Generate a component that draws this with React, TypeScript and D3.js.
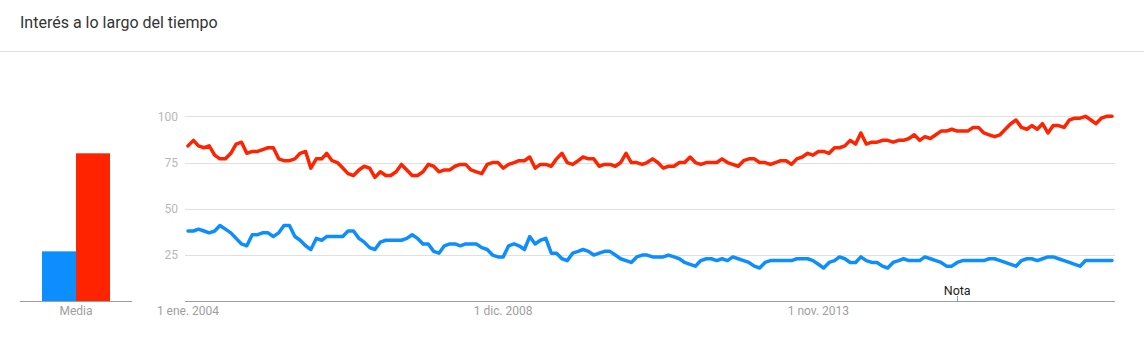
import React from "react";
import * as d3 from "d3";

// Monthly interest, Jan 2004 – Jun 2018 (0–100 scale)
const seriesNames = ["Serie A", "Serie B"];
const seriesColors = ["#0c8eff", "#ff2300"];

const blueValues = [
  38, 38, 39, 38, 37, 38, 41, 39, 37, 34,
  31, 30, 36, 36, 37, 37, 35, 37, 41, 41,
  35, 33, 30, 28, 34, 33, 35, 35, 35, 35,
  38, 38, 34, 32, 29, 28, 32, 33, 33, 33,
  33, 34, 36, 34, 31, 31, 27, 26, 30, 31,
  31, 30, 31, 31, 31, 29, 28, 25, 24, 24,
  30, 31, 30, 28, 35, 31, 33, 34, 26, 26,
  23, 22, 26, 27, 28, 27, 25, 26, 27, 27,
  25, 23, 22, 21, 24, 25, 25, 24, 24, 24,
  25, 24, 23, 21, 20, 19, 22, 23, 23, 22,
  23, 22, 24, 23, 22, 21, 19, 18, 21, 22,
  22, 22, 22, 22, 23, 23, 23, 22, 20, 18,
  21, 22, 24, 23, 21, 21, 24, 22, 21, 21,
  19, 18, 21, 22, 23, 22, 22, 22, 24, 23,
  22, 21, 19, 19, 21, 22, 22, 22, 22, 22,
  23, 23, 22, 21, 20, 19, 22, 23, 23, 22,
  23, 24, 24, 23, 22, 21, 20, 19, 22, 22,
  22, 22, 22, 22,
];

const redValues = [
  84, 87, 84, 83, 84, 79, 77, 77, 80, 85,
  86, 80, 81, 81, 82, 83, 83, 77, 76, 76,
  77, 80, 81, 72, 77, 77, 80, 76, 75, 72,
  69, 68, 71, 73, 72, 67, 70, 68, 68, 70,
  74, 71, 68, 68, 70, 74, 73, 70, 71, 71,
  73, 74, 74, 71, 70, 69, 74, 75, 75, 72,
  74, 75, 76, 76, 78, 72, 74, 74, 73, 77,
  80, 75, 74, 76, 78, 77, 77, 73, 74, 74,
  73, 75, 80, 75, 75, 74, 75, 77, 75, 72,
  73, 73, 75, 75, 78, 75, 74, 75, 75, 75,
  77, 75, 74, 73, 76, 77, 77, 75, 75, 74,
  75, 76, 76, 74, 77, 78, 80, 79, 81, 81,
  80, 83, 83, 84, 87, 85, 91, 85, 86, 86,
  87, 87, 86, 87, 87, 88, 90, 87, 89, 88,
  90, 92, 92, 93, 92, 92, 92, 94, 94, 91,
  90, 89, 90, 93, 96, 98, 94, 93, 95, 93,
  96, 91, 95, 95, 94, 98, 99, 99, 100, 98,
  96, 99, 100, 100,
];

// Period averages shown in the side bar chart
const averages = [27, 80];

const yTicks = [25, 50, 75, 100];
const xTickDates = [new Date(2004, 0, 1), new Date(2008, 11, 1), new Date(2013, 10, 1)];
const xTickLabels = ["1 ene. 2004", "1 dic. 2008", "1 nov. 2013"];
const noteDate = new Date(2016, 0, 1);
const noteLabel = "Nota";
const title = "Interés a lo largo del tiempo";
const avgLabel = "Media";

const months = d3.timeMonth.range(new Date(2004, 0, 1), new Date(2018, 6, 1));

const W = 1144;
const H = 346;
const FONT = "Roboto, 'Noto Sans', Arial, sans-serif";

export default function App() {
  const y = d3.scaleLinear().domain([0, 100]).range([301.3, 116.3]);
  const x = d3
    .scaleTime()
    .domain([months[0], months[months.length - 1]])
    .range([188, 1112]);
  const plotLeft = 185;
  const plotRight = 1115;

  const line = d3
    .line<number>()
    .x((_, i) => x(months[i]))
    .y((v) => y(v));

  const band = d3.scaleBand<number>().domain([0, 1]).range([42, 110]).padding(0);

  const gridY = (v: number) => Math.round(y(v)) + 0.5;
  const baseY = gridY(0);

  return (
    <svg
      width={W}
      height={H}
      style={{ position: "absolute", left: 0, top: 0, background: "#fff" }}
      fontFamily={FONT}
    >
      <text x={20} y={28} fontSize={16} fill="#333">
        {title}
      </text>
      <line x1={0} x2={W} y1={51.5} y2={51.5} stroke="#e0e0e0" />

      {/* average bars */}
      {averages.map((v, i) => (
        <rect
          key={seriesNames[i]}
          x={band(i)}
          width={band.bandwidth()}
          y={y(v)}
          height={y(0) - y(v)}
          fill={seriesColors[i]}
        />
      ))}
      <line x1={20} x2={132} y1={baseY} y2={baseY} stroke="#9e9e9e" />
      <text x={76} y={315} fontSize={12} fill="#9e9e9e" textAnchor="middle">
        {avgLabel}
      </text>

      {/* time chart grid */}
      {yTicks.map((t) => (
        <g key={t}>
          <line x1={plotLeft} x2={plotRight} y1={gridY(t)} y2={gridY(t)} stroke="#e0e0e0" />
          <text
            x={178}
            y={y(t)}
            dy="0.36em"
            fontSize={12}
            fill="#b8b8b8"
            textAnchor="end"
          >
            {t}
          </text>
        </g>
      ))}
      <line x1={plotLeft} x2={plotRight} y1={baseY} y2={baseY} stroke="#9e9e9e" />
      {xTickDates.map((d, i) => (
        <text
          key={xTickLabels[i]}
          x={x(d)}
          y={315}
          fontSize={12}
          fill="#9e9e9e"
          textAnchor="middle"
        >
          {xTickLabels[i]}
        </text>
      ))}

      {/* note marker */}
      <line
        x1={Math.round(x(noteDate)) + 0.5}
        x2={Math.round(x(noteDate)) + 0.5}
        y1={296}
        y2={baseY}
        stroke="#9e9e9e"
      />
      <text x={x(noteDate)} y={295} fontSize={12.5} fill="#222" textAnchor="middle">
        {noteLabel}
      </text>

      {/* series lines */}
      {[blueValues, redValues].map((vals, i) => (
        <path
          key={seriesNames[i]}
          d={line(vals) || ""}
          fill="none"
          stroke={seriesColors[i]}
          strokeWidth={3.5}
          strokeLinejoin="round"
          strokeLinecap="round"
        />
      ))}
    </svg>
  );
}
